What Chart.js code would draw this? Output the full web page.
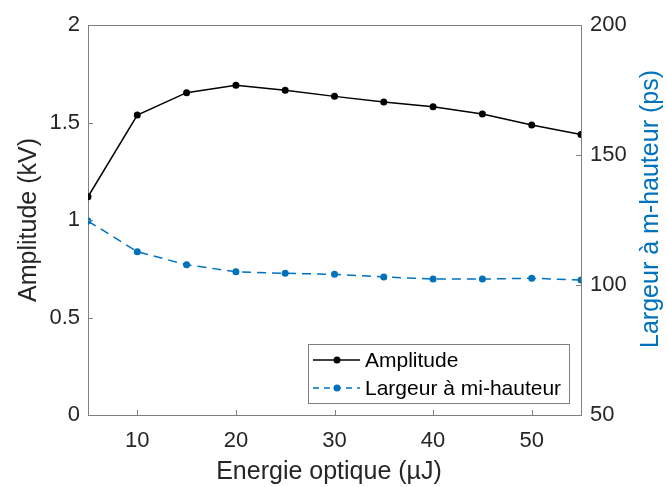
<!DOCTYPE html>
<html>
<head>
<meta charset="utf-8">
<script src="https://cdn.jsdelivr.net/npm/chart.js@4.4.1/dist/chart.umd.min.js"></script>
<style>
    html, body { margin: 0; padding: 0; background: #fff; }
    #wrap { width: 667px; height: 487px; position: relative; }
</style>
</head>
<body>
<div id="wrap"><canvas id="chart"></canvas></div>
<script>
// data
const energy = [5, 10, 15, 20, 25, 30, 35, 40, 45, 50, 55];
const amplitude = [1.119, 1.538, 1.653, 1.691, 1.665, 1.634, 1.605, 1.581, 1.544, 1.487, 1.439];
const fwhm = [124.6, 112.8, 107.8, 105.1, 104.5, 104.1, 103.1, 102.3, 102.3, 102.6, 101.9];
const xTicks = [10, 20, 30, 40, 50];
const yTicks = [0, 0.5, 1, 1.5, 2];
const y1Ticks = [50, 100, 150, 200];
const seriesNames = ['Amplitude', 'Largeur à mi-hauteur'];
const axisTitles = ['Energie optique (µJ)', 'Amplitude (kV)', 'Largeur à m-hauteur (ps)'];

const FONT = "'Liberation Sans', Arial, sans-serif";
const AXIS = '#808080';
const TEXT = '#262626';
const BLUE = '#0072BD';

const setTicks = list => scale => { scale.ticks = list.map(v => ({ value: v })); };
const plain = v => String(v);

// inward tick marks, top border, axis titles and boxed legend
const decorations = {
    id: 'decorations',
    afterDatasetsDraw(chart) {
        const { ctx, chartArea: { left, right, top, bottom }, scales: { x, y, y1 } } = chart;
        ctx.save();
        ctx.strokeStyle = AXIS;
        ctx.lineWidth = 1;
        ctx.beginPath();
        xTicks.forEach(v => {
            const px = Math.round(x.getPixelForValue(v)) + 0.5;
            ctx.moveTo(px, bottom);
            ctx.lineTo(px, bottom - 5);
        });
        yTicks.forEach(v => {
            const py = Math.round(y.getPixelForValue(v)) + 0.5;
            ctx.moveTo(left, py);
            ctx.lineTo(left + 5, py);
        });
        y1Ticks.forEach(v => {
            const py = Math.round(y1.getPixelForValue(v)) + 0.5;
            ctx.moveTo(right, py);
            ctx.lineTo(right - 5, py);
        });
        ctx.moveTo(left, Math.round(top) + 0.5);
        ctx.lineTo(right, Math.round(top) + 0.5);
        ctx.stroke();
        ctx.restore();
    },
    afterDraw(chart) {
        const { ctx } = chart;
        ctx.save();
        ctx.textAlign = 'center';
        ctx.textBaseline = 'middle';
        ctx.font = `25px ${FONT}`;

        // x title, sits a little left of the axis centre
        ctx.fillStyle = TEXT;
        ctx.fillText(axisTitles[0], 329, 472);

        // right axis title, reading bottom to top
        ctx.translate(651, 209);
        ctx.rotate(-Math.PI / 2);
        ctx.fillStyle = BLUE;
        ctx.fillText(axisTitles[2], 0, 0);
        ctx.setTransform(1, 0, 0, 1, 0, 0);

        // legend
        ctx.fillStyle = '#fff';
        ctx.fillRect(308, 344, 261, 59);
        ctx.strokeStyle = AXIS;
        ctx.lineWidth = 1;
        ctx.strokeRect(308.5, 344.5, 261, 59);

        const rows = [
            { y: 360, color: '#000', dash: [] },
            { y: 388, color: BLUE, dash: [6, 5] },
        ];
        rows.forEach((r, i) => {
            ctx.strokeStyle = r.color;
            ctx.lineWidth = 1.5;
            ctx.setLineDash(r.dash);
            ctx.beginPath();
            ctx.moveTo(313, r.y);
            ctx.lineTo(360, r.y);
            ctx.stroke();
            ctx.setLineDash([]);
            ctx.fillStyle = r.color;
            ctx.beginPath();
            ctx.arc(337, r.y, 3.5, 0, Math.PI * 2);
            ctx.fill();
            ctx.fillStyle = '#000';
            ctx.font = `21px ${FONT}`;
            ctx.textAlign = 'left';
            ctx.fillText(seriesNames[i], 365, r.y + 1);
        });
        ctx.restore();
    },
};

new Chart(document.getElementById('chart'), {
    type: 'line',
    data: {
        datasets: [{
            label: seriesNames[0],
            data: energy.map((e, i) => ({ x: e, y: amplitude[i] })),
            yAxisID: 'y',
            borderColor: '#000',
            backgroundColor: '#000',
            borderWidth: 1.5,
            pointRadius: 3.5,
            pointBorderWidth: 0,
            pointBackgroundColor: '#000',
            tension: 0,
        }, {
            label: seriesNames[1],
            data: energy.map((e, i) => ({ x: e, y: fwhm[i] })),
            yAxisID: 'y1',
            borderColor: BLUE,
            backgroundColor: BLUE,
            borderWidth: 1.5,
            borderDash: [9, 6],
            pointRadius: 3.5,
            pointBorderWidth: 0,
            pointBackgroundColor: BLUE,
            tension: 0,
        }],
    },
    options: {
        responsive: true,
        maintainAspectRatio: false,
        animation: false,
        devicePixelRatio: 1,
        layout: { padding: { top: 25, left: 0, right: 0, bottom: 0 } },
        plugins: {
            legend: { display: false },
            tooltip: { enabled: false },
        },
        scales: {
            x: {
                type: 'linear',
                position: 'bottom',
                min: 5,
                max: 55,
                afterBuildTicks: setTicks(xTicks),
                afterFit: s => { s.height = 72; },
                grid: { display: false, drawTicks: false },
                border: { display: true, color: AXIS, width: 1 },
                ticks: {
                    color: TEXT,
                    padding: 13,
                    callback: plain,
                    font: { family: FONT, size: 22 },
                },
            },
            y: {
                type: 'linear',
                position: 'left',
                min: 0,
                max: 2,
                afterBuildTicks: setTicks(yTicks),
                afterFit: s => { s.width = 88; },
                grid: { display: false, drawTicks: false },
                border: { display: true, color: AXIS, width: 1 },
                ticks: {
                    color: TEXT,
                    padding: 8,
                    callback: plain,
                    font: { family: FONT, size: 22 },
                },
                title: {
                    display: true,
                    text: axisTitles[1],
                    color: TEXT,
                    padding: { top: 14, bottom: 0 },
                    font: { family: FONT, size: 25 },
                },
            },
            y1: {
                type: 'linear',
                position: 'right',
                min: 50,
                max: 200,
                afterBuildTicks: setTicks(y1Ticks),
                afterFit: s => { s.width = 86; },
                grid: { display: false, drawTicks: false },
                border: { display: true, color: AXIS, width: 1 },
                ticks: {
                    color: TEXT,
                    padding: 9,
                    callback: plain,
                    font: { family: FONT, size: 22 },
                },
            },
        },
    },
    plugins: [decorations],
});
</script>
</body>
</html>
